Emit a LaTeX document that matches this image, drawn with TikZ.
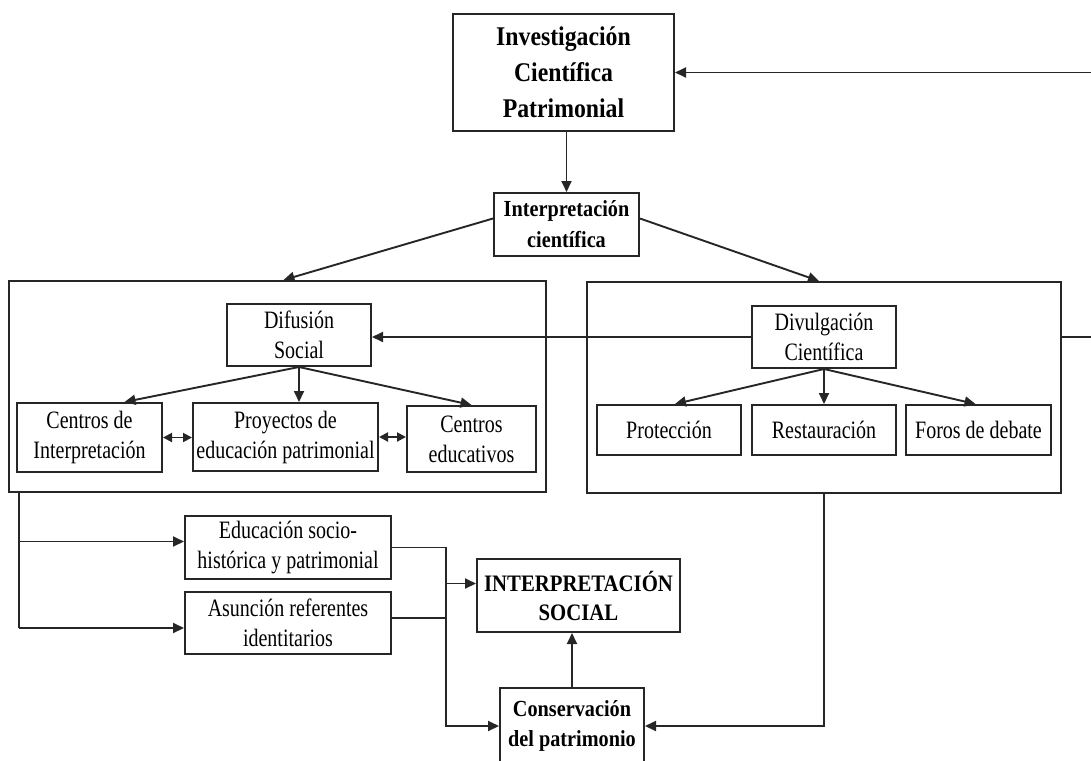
\documentclass[tikz,border=0pt]{standalone}
\usepackage{fontspec}
\setmainfont{Liberation Serif}[FakeStretch=0.8, BoldFeatures={FakeStretch=0.88}]
\usetikzlibrary{arrows.meta}
\tikzset{
  arr/.style={-{Triangle[length=5.5pt,width=5pt]}, line width=0.95pt, draw=black!85},
  darr/.style={{Triangle[length=4.5pt,width=4.5pt]}-{Triangle[length=4.5pt,width=4.5pt]},
    line width=0.95pt, draw=black!85},
  ln/.style={line width=0.95pt, draw=black!85},
  bx/.style={draw=black!85, line width=1pt, align=center, inner sep=0pt,
    font=\fontsize{12.5}{15}\selectfont},
  bbx/.style={bx, font=\bfseries\fontsize{11.5}{15.5}\selectfont},
  pnl/.style={draw=black!85, line width=1pt, inner sep=0pt}
}
\begin{document}
\begin{tikzpicture}[x=0.5pt, y=-0.5pt]
\useasboundingbox (0,0) rectangle (1091,760);
\clip (0,0) rectangle (1091,760);
% ---------- panels (drawn first) ----------
\node[pnl, minimum width=268.5pt, minimum height=105.5pt] (lpanel) at (277.5,386.5) {};
\node[pnl, minimum width=237pt, minimum height=105.5pt] (rpanel) at (824,387.5) {};
% ---------- top ----------
\node[bbx, font=\bfseries\fontsize{13.5}{18}\selectfont, minimum width=110.5pt, minimum height=58.5pt]
  (invest) at (563.5,72.5) {Investigación\\Científica\\Patrimonial};
\node[bbx, minimum width=72.5pt, minimum height=31.5pt] (interp) at (566.5,224.5)
  {Interpretación\\científica};
% ---------- left panel ----------
\node[bx, minimum width=72pt, minimum height=31pt] (difus) at (299,335) {Difusión\\Social};
\node[bx, minimum width=72.5pt, minimum height=34.5pt] (cinterp) at (89.5,437.5)
  {Centros de\\Interpretación};
\node[bx, minimum width=92.5pt, minimum height=34pt] (proyect) at (285.5,437)
  {Proyectos de\\educación patrimonial};
\node[bx, minimum width=64.5pt, minimum height=33pt] (ceduc) at (471.5,439)
  {Centros\\educativos};
% ---------- right panel ----------
\node[bx, minimum width=72pt, minimum height=31pt] (divul) at (824,337) {Divulgación\\Científica};
\node[bx, minimum width=72pt, minimum height=25pt] (prot) at (669,430) {Protección};
\node[bx, minimum width=72pt, minimum height=25pt] (restau) at (824,430) {Restauración};
\node[bx, minimum width=72.5pt, minimum height=25pt] (foros) at (978.5,430) {Foros de debate};
% ---------- bottom ----------
\node[bx, minimum width=103pt, minimum height=31.5pt] (educ) at (288,547.5)
  {Educación socio-\\histórica y patrimonial};
\node[bx, minimum width=103pt, minimum height=31pt] (asun) at (288,623)
  {Asunción referentes\\identitarios};
\node[bbx, font=\bfseries\fontsize{11.8}{14.5}\selectfont, minimum width=101.5pt, minimum height=36.5pt]
  (isocial) at (578.5,595.5) {INTERPRETACIÓN\\SOCIAL};
\node[bbx, font=\bfseries\fontsize{11.5}{15}\selectfont, minimum width=72pt, minimum height=38pt]
  (conserv) at (572,726) {Conservación\\del patrimonio};
% ---------- helper points ----------
\coordinate (edge) at (1120,0);
\coordinate (ltr) at ([xshift=5.5pt]lpanel.south west);
\coordinate (jx) at (446,0);
\coordinate (eIn) at ([yshift=3pt]educ.west);
\coordinate (aIn) at ([yshift=-2.5pt]asun.west);
\coordinate (sIn) at ([yshift=6pt]isocial.west);
% ---------- connections ----------
\draw[arr] (invest.south -| interp.north) -- (interp.north);
\draw[arr] ([yshift=3pt]interp.west) -- ([xshift=3pt]lpanel.north);
\draw[arr] ([yshift=3pt]interp.east) -- ([xshift=-2.5pt]rpanel.north);
\draw[arr] (divul.west) -- (divul.west -| difus.east);
\draw[arr] (rpanel.east |- divul.west) -| (edge |- invest.east) -- (invest.east);
\draw[arr] (difus.south) -- ([xshift=17.5pt]cinterp.north);
\draw[arr] (difus.south) -- (difus.south |- proyect.north);
\draw[arr] (difus.south) -- (ceduc.north);
\draw[darr] (cinterp.east) -- (cinterp.east -| proyect.west);
\draw[darr] (proyect.east) -- (proyect.east -| ceduc.west);
\draw[arr] (divul.south) -- ([xshift=3pt]prot.north);
\draw[arr] (divul.south) -- (restau.north);
\draw[arr] (divul.south) -- ([xshift=-1.5pt]foros.north);
\draw[ln] (ltr) -- (ltr |- aIn);
\draw[arr] (eIn -| ltr) -- (eIn);
\draw[arr] (aIn -| ltr) -- (aIn);
\draw[arr] (educ.east) -| (jx |- conserv.west) -- (conserv.west);
\draw[ln] ([yshift=2.5pt]asun.east) -- ([yshift=2.5pt]asun.east -| jx);
\draw[arr] (sIn -| jx) -- (sIn);
\draw[arr] (conserv.north) -- (conserv.north |- isocial.south);
\draw[arr] (rpanel.south) |- (conserv.east);
\end{tikzpicture}
\end{document}
